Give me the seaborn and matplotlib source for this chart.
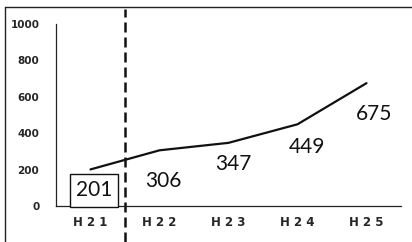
import matplotlib
matplotlib.use("Agg")
import matplotlib.pyplot as plt
from matplotlib.lines import Line2D
import seaborn as sns
import pandas as pd

# data
categories = ["H21", "H22", "H23", "H24", "H25"]
tick_labels = ["H 2 1", "H 2 2", "H 2 3", "H 2 4", "H 2 5"]
values = [201, 306, 347, 449, 675]
y_ticks = [0, 200, 400, 600, 800, 1000]

# label offsets in points (layout only)
label_offsets = [(2.5, -15), (2.5, -22), (3.2, -15), (6.8, -16), (5.4, -22)]

sns.set_style("white")
plt.rcParams["font.family"] = ["DejaVu Sans"]

fig = plt.figure(figsize=(4.12, 2.42), dpi=100)
ax = fig.add_axes([56 / 412, 36 / 242, 345 / 412, 182 / 242])

df = pd.DataFrame({"cat": categories, "val": values})
sns.lineplot(data=df, x="cat", y="val", ax=ax, color="#111111", linewidth=1.6,
             sort=False)

ax.set_xlim(-0.5, 4.5)
ax.set_ylim(0, 1000)
ax.set_xlabel("")
ax.set_ylabel("")
ax.set_yticks(y_ticks)
ax.set_yticklabels([str(t) for t in y_ticks], fontsize=7.5, fontweight="bold")
ax.set_xticks(range(len(categories)))
ax.set_xticklabels(tick_labels, fontsize=8.5, fontweight="bold")
ax.set_xticks([i - 0.5 for i in range(len(categories) + 1)], minor=True)
ax.tick_params(axis="x", which="major", length=0, pad=7)
ax.tick_params(axis="x", which="minor", length=3, width=0.8, direction="out", color="#222")
ax.tick_params(axis="y", length=4, width=0.8, color="#222", pad=8, direction="out")

for s in ["top", "right"]:
    ax.spines[s].set_visible(False)
for s in ["left", "bottom"]:
    ax.spines[s].set_color("#222222")
    ax.spines[s].set_linewidth(0.9)

for i, (v, off) in enumerate(zip(values, label_offsets)):
    kw = {}
    if i == 0:
        kw["bbox"] = dict(boxstyle="square,pad=0.3", fc="white", ec="#111111", lw=1.0)
    ax.annotate(str(v), xy=(i, v), xytext=off, textcoords="offset points",
                ha="center", va="center", fontsize=15, family=["Lato", "DejaVu Sans"],
                color="#111111", **kw)

# dashed separator between H21 and H22
ax.axvline(0.5, ymin=-0.2, ymax=1.08, color="#111111", lw=1.8,
           linestyle=(0, (4, 2)), clip_on=False)

# outer frame (left and top)
fig.add_artist(Line2D([4.5 / 412, 4.5 / 412], [0, 1 - 6.5 / 242],
                      transform=fig.transFigure, color="#222222", lw=1.0))
fig.add_artist(Line2D([4.5 / 412, 1], [1 - 6.5 / 242, 1 - 6.5 / 242],
                      transform=fig.transFigure, color="#222222", lw=1.0))

fig.savefig("out.png", dpi=100)
